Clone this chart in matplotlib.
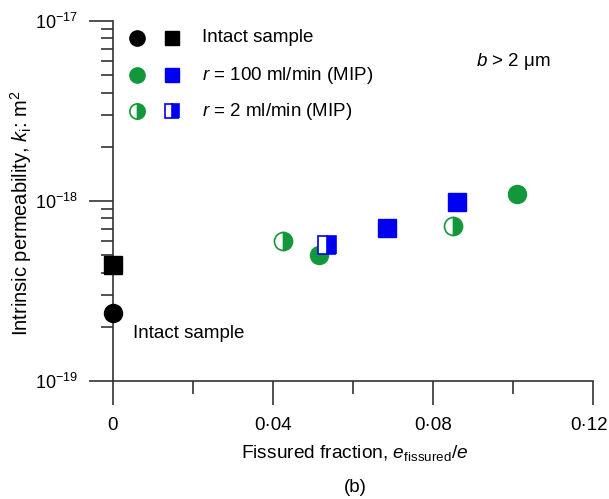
import matplotlib
matplotlib.use("Agg")
import matplotlib.pyplot as plt
import matplotlib.transforms as mtransforms
from matplotlib.ticker import FixedLocator, NullFormatter, LogFormatterSciNotation

plt.rcParams['font.family'] = ['Liberation Sans', 'DejaVu Sans']
plt.rcParams['mathtext.fontset'] = 'custom'
plt.rcParams['mathtext.rm'] = 'Liberation Sans'
plt.rcParams['mathtext.it'] = 'Liberation Sans:italic'
plt.rcParams['mathtext.bf'] = 'Liberation Sans:bold'

GREEN = '#12983a'
BLUE = '#0000f0'

# Data
intact_circle_x = [0.0]
intact_circle_y = [2.4e-19]
intact_square_x = [0.0]
intact_square_y = [4.4e-19]
r100_circle_x = [0.0515, 0.101]
r100_circle_y = [5.0e-19, 1.09e-18]
r100_square_x = [0.0685, 0.086]
r100_square_y = [7.1e-19, 9.9e-19]
r2_circle_x = [0.0425, 0.085]
r2_circle_y = [6.0e-19, 7.3e-19]
r2_square_x = [0.0535]
r2_square_y = [5.7e-19]

xticks_major = [0, 0.04, 0.08, 0.12]
xtick_labels = ['0', '0·04', '0·08', '0·12']
xticks_minor = [0.02, 0.06, 0.10]
yticks_major = [1e-19, 1e-18, 1e-17]
yticks_minor = [m * d for d in (1e-19, 1e-18) for m in range(2, 10)]

fig = plt.figure(figsize=(6.09, 4.99), dpi=100)
ax = fig.add_axes([113/609, 1-381/499, 480/609, 360/499])
ax.set_yscale('log')
ax.set_xlim(0, 0.12)
ax.set_ylim(1e-19, 1e-17)
for s in ['top', 'right']:
    ax.spines[s].set_visible(False)
for s in ['left', 'bottom']:
    ax.spines[s].set_linewidth(1.2)
    ax.spines[s].set_color('#333333')

ax.xaxis.set_major_locator(FixedLocator(xticks_major))
ax.set_xticklabels(xtick_labels)
ax.xaxis.set_minor_locator(FixedLocator(xticks_minor))
ax.yaxis.set_major_locator(FixedLocator(yticks_major))
ax.yaxis.set_major_formatter(LogFormatterSciNotation())
ax.yaxis.set_minor_locator(FixedLocator(yticks_minor))
ax.yaxis.set_minor_formatter(NullFormatter())
ax.tick_params(which='major', length=17, width=1.2, color='#333333', labelsize=13.5)
ax.tick_params(which='minor', length=9, width=1.2, color='#333333')
ax.tick_params(axis='x', which='major', pad=9)
ax.tick_params(axis='y', which='major', labelsize=13, pad=8)

# nudge last x tick label so it stays inside the figure
lbl = ax.get_xticklabels()[-1]
lbl.set_transform(lbl.get_transform() + mtransforms.ScaledTranslation(-4/100, 0, fig.dpi_scale_trans))

ms = 13
kw = dict(linestyle='none', clip_on=False, zorder=5)
ax.plot(intact_circle_x, intact_circle_y, marker='o', color='black', markersize=ms, **kw)
ax.plot(intact_square_x, intact_square_y, marker='s', color='black', markersize=ms-0.5, **kw)
ax.plot(r100_circle_x, r100_circle_y, marker='o', color=GREEN, markersize=ms, **kw)
ax.plot(r100_square_x, r100_square_y, marker='s', color=BLUE, markersize=ms-0.5, **kw)
ax.plot(r2_circle_x, r2_circle_y, marker='o', color=GREEN, markersize=ms, fillstyle='right',
        markerfacecoloralt='white', markeredgewidth=1.2, **kw)
ax.plot(r2_square_x, r2_square_y, marker='s', color=BLUE, markersize=ms-0.5, fillstyle='right',
        markerfacecoloralt='white', markeredgewidth=1.2, **kw)

# Legend drawn manually in figure pixels
def fx(px):
    return px/609
def fy(py):
    return 1-py/499

lms = 11
leg_rows = [
    (38, dict(color='black'), dict(color='black'), 'Intact sample'),
    (75, dict(color=GREEN), dict(color=BLUE), r'$r$ = 100 ml/min (MIP)'),
    (111, dict(color=GREEN, fillstyle='right', markerfacecoloralt='white', markeredgewidth=1.2),
     dict(color=BLUE, fillstyle='right', markerfacecoloralt='white', markeredgewidth=1.2),
     r'$r$ = 2 ml/min (MIP)'),
]
for py, ckw, skw, label in leg_rows:
    fig.lines.append(plt.Line2D([fx(137)], [fy(py)], marker='o', markersize=lms,
                                linestyle='none', transform=fig.transFigure, **ckw))
    fig.lines.append(plt.Line2D([fx(172)], [fy(py)], marker='s', markersize=lms-1,
                                linestyle='none', transform=fig.transFigure, **skw))
    fig.text(fx(202), fy(py), label, fontsize=13.5, va='center', ha='left')

fig.text(fx(476), fy(62), r'$b$ > 2 μm', fontsize=13.5, va='center', ha='left')
fig.text(fx(133), fy(334), 'Intact sample', fontsize=13.5, va='center', ha='left')

fig.text(fx(21), fy(213), r'Intrinsic permeability, $k_\mathrm{i}$: m$^2$', fontsize=14.5,
         rotation=90, va='center', ha='center')
fig.text(fx(355), fy(453), r'Fissured fraction, $e_\mathrm{fissured}$/$e$', fontsize=13.8,
         va='center', ha='center')
fig.text(fx(355), fy(487), '(b)', fontsize=13.5, va='center', ha='center')

fig.savefig('out.png', dpi=100)
